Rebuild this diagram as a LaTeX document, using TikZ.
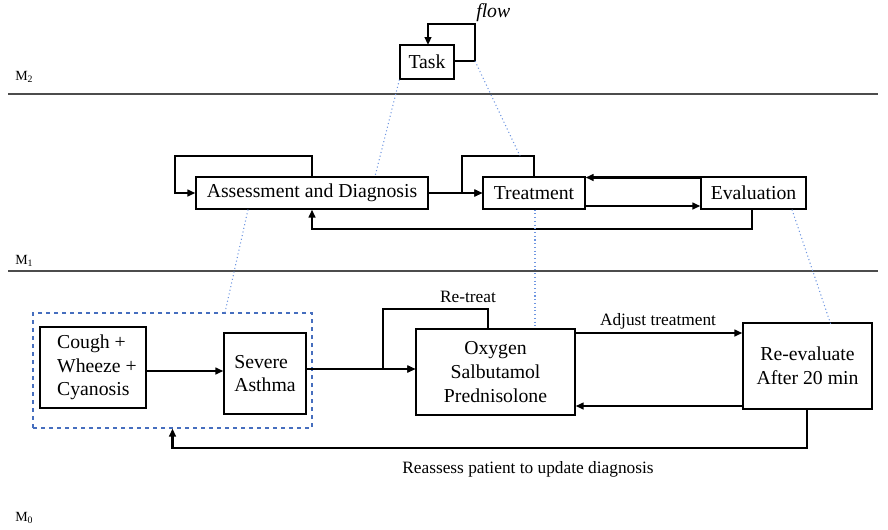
\documentclass[tikz,border=0pt]{standalone}
\usepackage{fontspec}
\setmainfont{Liberation Serif}
\usetikzlibrary{arrows.meta,calc}
\definecolor{dotblue}{RGB}{110,150,225}
\definecolor{dashblue}{RGB}{70,110,190}
\begin{document}
\begin{tikzpicture}[x=0.75pt,y=-0.75pt,
  box/.style={draw, line width=0.9pt, inner sep=0pt, align=center,
    font=\fontsize{14.8}{17.8}\selectfont},
  arr/.style={line width=1.6pt, -{Triangle[length=6pt,width=5pt]}},
  level/.style={draw=black!70, line width=1pt},
  dots/.style={draw=dotblue, dotted, line width=0.8pt},
  lab/.style={font=\fontsize{13}{15}\selectfont, inner sep=0pt},
  mlab/.style={font=\fontsize{10.5}{12}\selectfont, anchor=west, inner sep=0pt}]
\useasboundingbox (0,0) rectangle (888,529);

% level separators and labels
\coordinate (l2a) at (8,94);   \coordinate (l2b) at (878,94);
\coordinate (l1a) at (8,271);  \coordinate (l1b) at (878,271);
\draw[level] (l2a) -- (l2b);
\draw[level] (l1a) -- (l1b);
\node[mlab] (m2) at (15,77)  {M\textsubscript{2}};
\node[mlab] (m1) at (15,261) {M\textsubscript{1}};
\node[mlab] (m0) at (15,518) {M\textsubscript{0}};

% ---- M2: task level ----
\node[box, minimum width=40.5pt, minimum height=25.5pt] (task) at (427,62) {Task};
\coordinate (tk) at (475,61);
\draw[arr, line width=1.9pt] (task.east |- tk) -- (tk) |- (428,24) -- (428,45);
\node[font=\fontsize{14.8}{17}\selectfont\itshape, anchor=west, inner sep=0pt] (flow) at (476,13) {flow};

% ---- M1: activity level ----
\node[box, minimum width=174pt, minimum height=24pt] (assess) at (312,193) {Assessment and Diagnosis};
\node[box, minimum width=76.5pt, minimum height=24pt] (treat) at (534,193) {Treatment};
\node[box, minimum width=78.75pt, minimum height=24pt] (eval) at (753.5,193) {Evaluation};

\coordinate (ytop) at (0,177.5);
\coordinate (ybot) at (0,206);
\coordinate (yret) at (0,229);
\coordinate (ex) at (752,0);

\draw[arr] (assess.north) |- (175,156) |- (assess.west);
\draw[arr] (assess.east) -- (treat.west);
\draw[arr] (treat.north) |- (462,156) |- (treat.west);
\draw[arr] (eval.west |- ytop) -- (treat.east |- ytop);
\draw[arr] (treat.east |- ybot) -- (eval.west |- ybot);
\draw[arr] (eval.south -| ex) |- (assess.south |- yret) -- (assess.south);

% ---- M0: operation level ----
\node[draw=dashblue, dashed, line width=0.8pt, minimum width=209.25pt, minimum height=86.25pt, inner sep=0pt] (grp) at (172.5,370.5) {};
\node[box, align=left, minimum width=79.5pt, minimum height=60.75pt] (cough) at (93,367.5)
  {\hspace*{6pt}Cough +\\\hspace*{6pt}Wheeze +\\\hspace*{6pt}Cyanosis};
\node[box, align=left, minimum width=61.5pt, minimum height=60.75pt] (severe) at (265,373.5) {Severe\\Asthma};
\node[box, minimum width=119.25pt, minimum height=64.5pt] (oxy) at (495.5,372) {Oxygen\\Salbutamol\\Prednisolone};
\node[box, minimum width=96.75pt, minimum height=64.5pt] (reev) at (807.5,366) {Re-evaluate\\After 20 min};

\coordinate (y371) at (0,371);
\coordinate (y369) at (0,369);
\coordinate (yadj) at (0,333);
\coordinate (yback) at (0,406);
\coordinate (yre) at (0,448);
\coordinate (rx) at (488,0);
\coordinate (rvx) at (807,0);

\draw[arr] (cough.east |- y371) -- (severe.west |- y371);
\draw[arr] (severe.east |- y369) -- (oxy.west |- y369);
\draw[arr] (oxy.north -| rx) |- (383,309) |- (oxy.west |- y369);
\node[lab] (retreat) at (468,297) {Re-treat};
\draw[arr] (oxy.east |- yadj) -- (reev.west |- yadj);
\node[lab] (adjust) at (658,321) {Adjust treatment};
\draw[arr] (reev.west |- yback) -- (oxy.east |- yback);
\draw[arr] (reev.south -| rvx) |- (grp.south |- yre) -- (grp.south);
\node[lab] (reassess) at (528,469) {Reassess patient to update diagnosis};

% ---- refinement links between levels ----
\coordinate (x375) at (375,0);
\coordinate (x248) at (248,0);
\coordinate (x225) at (225,0);
\coordinate (x535) at (535,0);
\coordinate (x792) at (792,0);
\coordinate (tl) at (520,156);
\coordinate (rv) at (831,325);
\draw[dots] (task.south west) -- (assess.north -| x375);
\draw[dots] (tk) -- (tl);
\draw[dots] (assess.south -| x248) -- (grp.north -| x225);
\draw[dots] (treat.south -| x535) -- (oxy.north -| x535);
\draw[dots] (eval.south -| x792) -- (rv);
\end{tikzpicture}
\end{document}
